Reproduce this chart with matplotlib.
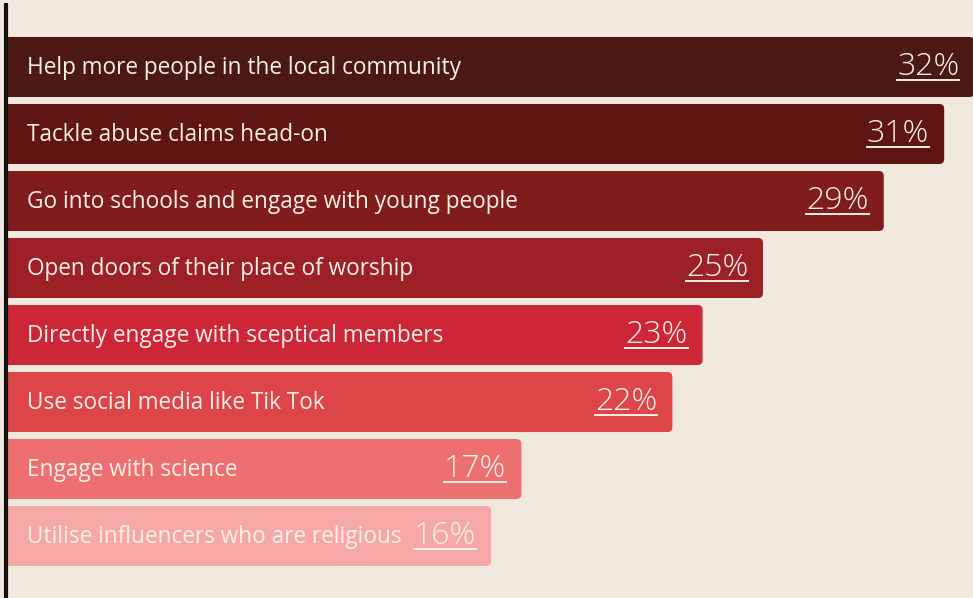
import matplotlib
matplotlib.use("Agg")
import matplotlib.pyplot as plt
from matplotlib.patches import FancyBboxPatch, Rectangle
from matplotlib.lines import Line2D

categories = [
    "Help more people in the local community",
    "Tackle abuse claims head-on",
    "Go into schools and engage with young people",
    "Open doors of their place of worship",
    "Directly engage with sceptical members",
    "Use social media like Tik Tok",
    "Engage with science",
    "Utilise influencers who are religious",
]
values = [32, 31, 29, 25, 23, 22, 17, 16]
colors = ["#4b1813", "#5f1612", "#801c1c", "#9d2026",
          "#cd2637", "#de4548", "#ee6f70", "#f6a8a7"]

BG = "#f1e8de"
TXT = "#f8f0e8"

W, H = 973, 598
fig = plt.figure(figsize=(W / 100, H / 100), dpi=100, facecolor=BG)
ax = fig.add_axes([0, 0, 1, 1], facecolor=BG)

px_per_unit_x = 30.2
px_per_unit_y = 67.0
x0_px = 8
ax.set_xlim(-x0_px / px_per_unit_x, (W - x0_px) / px_per_unit_x)
ax.set_ylim((H - 67) / px_per_unit_y, -1)
ax.axis("off")

bar_h = 60 / px_per_unit_y
rad = 5 / px_per_unit_x
aspect = px_per_unit_x / px_per_unit_y

for i, (cat, v, c) in enumerate(zip(categories, values, colors)):
    box = FancyBboxPatch((0, i - bar_h / 2), v, bar_h,
                         boxstyle=f"round,pad=0,rounding_size={rad}",
                         mutation_aspect=aspect, fc=c, ec="none", zorder=2)
    ax.add_patch(box)
    ax.add_patch(Rectangle((0, i - bar_h / 2), v / 2, bar_h, fc=c, ec="none", zorder=2))
    ax.text(0.63, i + 7 / px_per_unit_y, cat, ha="left", va="baseline", color=TXT,
            fontsize=16.3, family="Open Sans", zorder=3)

# black axis line on the left
ax.plot([-2 / px_per_unit_x] * 2, [-0.95, 7.925], color="#111111", lw=3.0,
        solid_capstyle="butt", zorder=4, clip_on=False)

fig.canvas.draw()
renderer = fig.canvas.get_renderer()
pad = 15 / px_per_unit_x
inv = ax.transData.inverted()
for i, v in enumerate(values):
    base = i + 8 / px_per_unit_y
    t = ax.text(v - pad, base, f"{v}%", ha="right", va="baseline", color=TXT,
                fontsize=23, family="Open Sans", fontweight="light", zorder=3)
    bb = t.get_window_extent(renderer)
    (xa, _), (xb, _) = inv.transform([(bb.x0, bb.y0), (bb.x1, bb.y0)])
    uy = base + 5 / px_per_unit_y
    ax.add_line(Line2D([xa, xb], [uy, uy], color=TXT, lw=1.4, zorder=3))

fig.savefig("out.png", dpi=100, facecolor=BG)
